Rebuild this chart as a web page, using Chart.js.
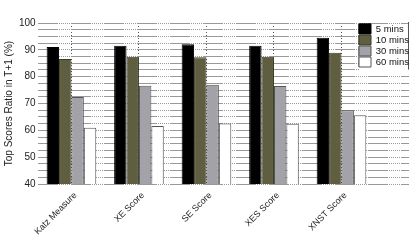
<!DOCTYPE html>
<html>
<head>
<meta charset="utf-8">
<script src="https://cdn.jsdelivr.net/npm/chart.js@4"></script>
<style>
  html, body { margin: 0; padding: 0; background: #fff; }
  #wrap { width: 410px; height: 249px; }
</style>
</head>
<body>
<div id="wrap"><canvas id="scoreChart"></canvas></div>
<script>
// data
const categories = ['Katz Measure', 'XE Score', 'SE Score', 'XES Score', 'XNST Score'];
const seriesNames = ['5 mins', '10 mins', '30 mins', '60 mins'];
const mins5 = [91.1, 91.5, 92.1, 91.5, 94.5];
const mins10 = [86.6, 87.4, 87.2, 87.4, 88.9];
const mins30 = [72.4, 76.6, 77.0, 76.5, 67.5];
const mins60 = [61.0, 61.6, 62.6, 62.5, 65.6];
const yTicks = [40, 50, 60, 70, 80, 90, 100];

const fills = ['#000000', '#5f5e40', '#a3a2a9', '#ffffff'];
const edges = ['#000000', '#3c3b28', '#555555', '#555555'];

const FONT = "'Liberation Sans', Arial, sans-serif";

// solid run followed by a dotted run, like the odd grid in the original
const gridDash = [20, 1];
for (let i = 0; i < 6; i++) gridDash.push(1, 1);

// put the legend in the top right corner, on top of the plot
const legendMover = {
  id: 'legendMover',
  afterLayout(chart) {
    const lg = chart.legend;
    if (!lg) return;
    const w = lg.width;
    lg.left = 358;
    lg.top = 23;
    lg.right = lg.left + w;
    lg.bottom = lg.top + 60;
  },
  afterDatasetsDraw(chart) {
    // white patch behind the legend, then the legend again on top
    const c = chart.ctx;
    c.save();
    c.fillStyle = '#fff';
    c.fillRect(359, 24, 49, 46);
    c.fillStyle = '#555';
    c.fillRect(408, 22, 1, 47);
    c.restore();
    chart.legend.draw(chart.chartArea);
  }
};

const ctx = document.getElementById('scoreChart').getContext('2d');
const chart = new Chart(ctx, {
  type: 'bar',
  data: {
    labels: categories,
    datasets: [mins5, mins10, mins30, mins60].map((vals, i) => ({
      label: seriesNames[i],
      data: vals,
      backgroundColor: fills[i],
      borderColor: edges[i],
      borderWidth: 1,
      barPercentage: 1.0,
      categoryPercentage: 0.735
    }))
  },
  options: {
    responsive: true,
    maintainAspectRatio: false,
    animation: false,
    devicePixelRatio: 1,
    layout: { padding: { top: 23, right: 1, left: 3, bottom: 6 } },
    plugins: {
      legend: {
        position: 'chartArea',
        align: 'start',
        labels: {
          boxWidth: 12,
          boxHeight: 10,
          padding: 1,
          color: '#111',
          font: { family: FONT, size: 9.5, lineHeight: 1.1 }
        }
      },
      tooltip: { enabled: false }
    },
    scales: {
      x: {
        offset: true,
        // leave half a category of empty plot on the right
        afterBuildTicks(scale) {
          scale._valueRange = categories.length + 0.5;
        },
        border: { display: false, dash: [1, 2] },
        grid: {
          offset: false,
          drawTicks: false,
          color: '#555',
          lineWidth: 1
        },
        ticks: {
          minRotation: 45,
          maxRotation: 45,
          padding: 6,
          labelOffset: 4,
          color: '#222',
          font: { family: FONT, size: 9 }
        }
      },
      y: {
        min: 40,
        max: 100,
        border: { display: false, dash: gridDash },
        grid: {
          color: '#999',
          lineWidth: 1,
          drawTicks: false
        },
        afterBuildTicks(scale) {
          const t = [];
          for (let v = 40; v <= 100; v += 2.5) t.push({ value: v });
          scale.ticks = t;
        },
        ticks: {
          autoSkip: false,
          padding: 2,
          color: '#222',
          font: { family: FONT, size: 10 },
          callback: (v) => yTicks.includes(v) ? String(v) : ''
        },
        title: {
          display: true,
          text: 'Top Scores Ratio in T+1 (%)',
          color: '#222',
          padding: { top: 0, bottom: 2 },
          font: { family: FONT, size: 10 }
        }
      }
    }
  },
  plugins: [legendMover]
});
</script>
</body>
</html>
